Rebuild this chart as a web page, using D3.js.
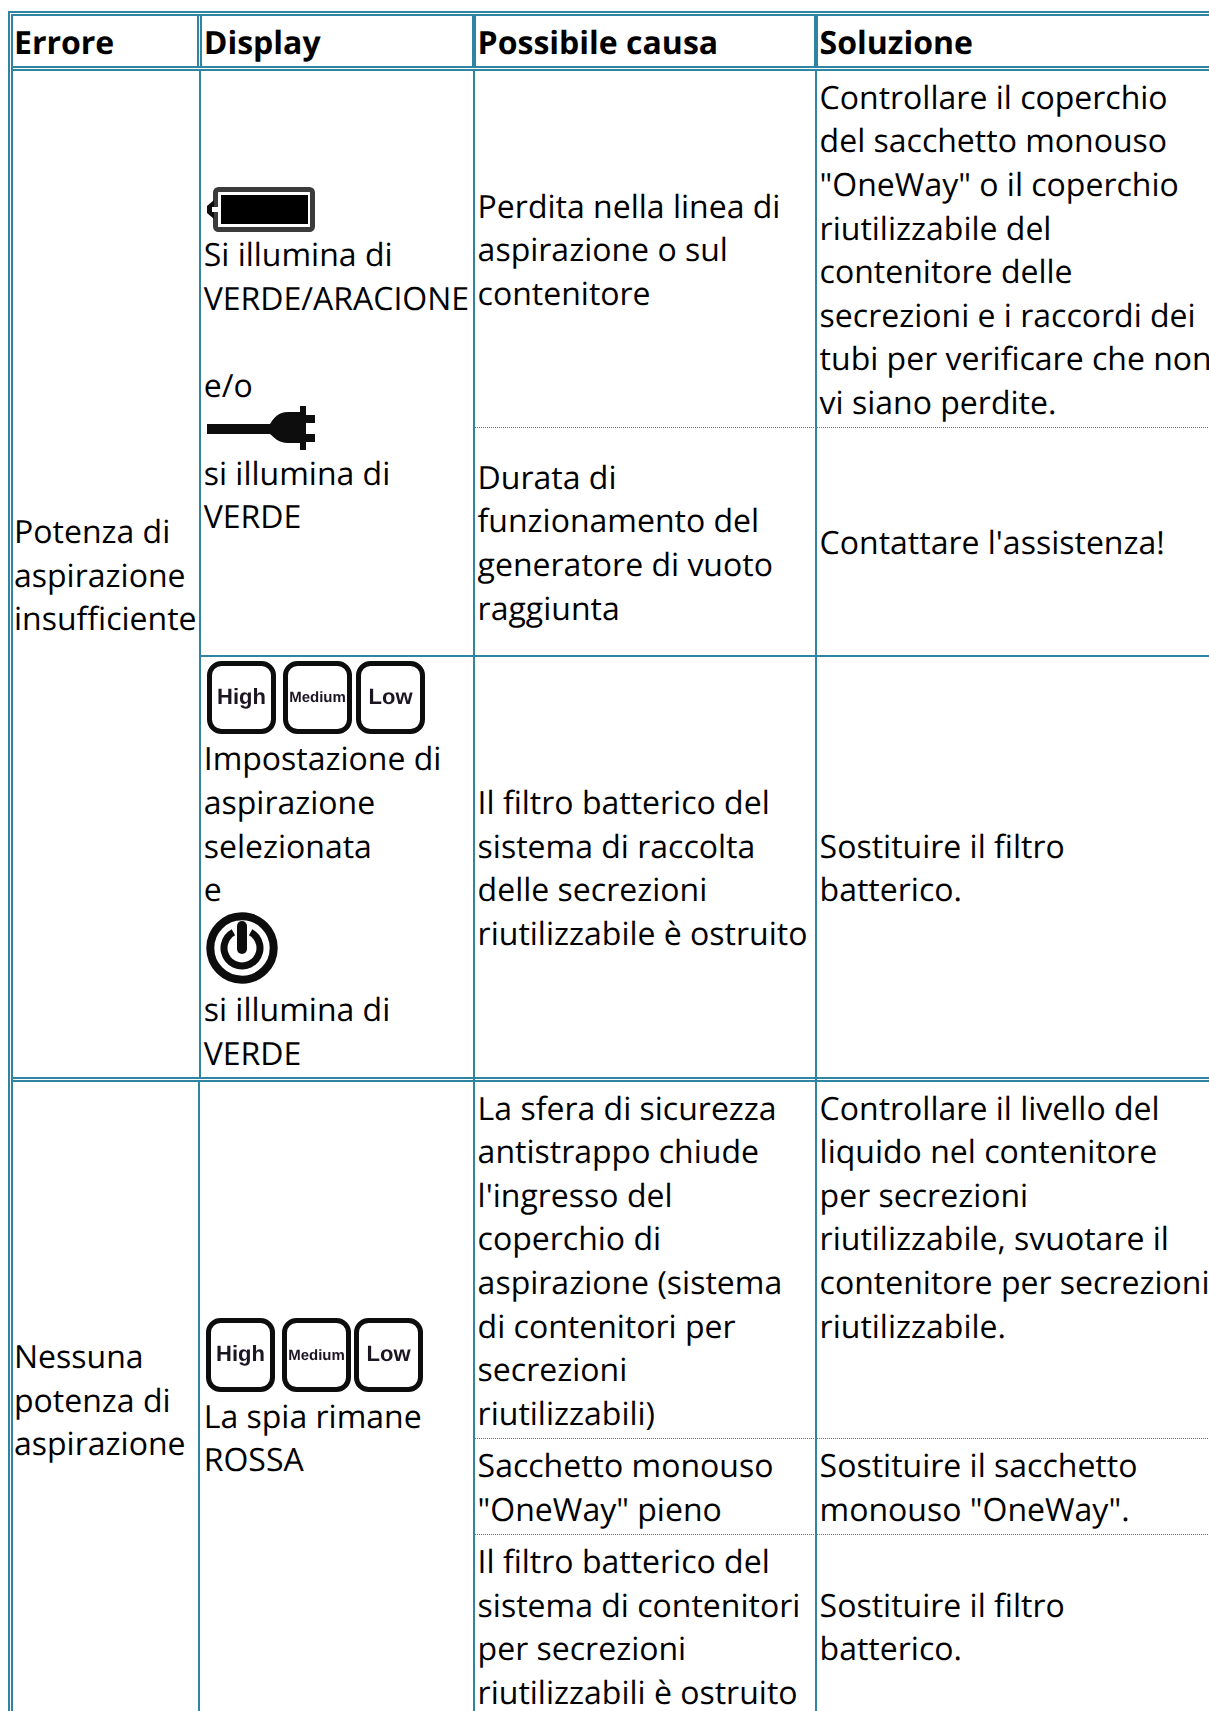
<!DOCTYPE html>
<html>
<head>
<meta charset="utf-8">
<script src="https://cdn.jsdelivr.net/npm/d3@7"></script>
<style>
html, body { margin: 0; padding: 0; background: #fff; overflow: hidden; }
text { font-family: "Open Sans", sans-serif; font-size: 32px; fill: #000; text-rendering: geometricPrecision; }
text.head { font-weight: 700; }
</style>
</head>
<body>
<div id="chart"></div>
<script>
"use strict";
let headers = ["Errore", "Display", "Possibile causa", "Soluzione"];

let errorOne = ["Potenza di", "aspirazione", "insufficiente"];
let errorTwo = ["Nessuna", "potenza di", "aspirazione"];

let displayBattery = ["Si illumina di", "VERDE/ARACIONE", "", "e/o"];
let displayPlug = ["si illumina di", "VERDE"];
let displayKeys = ["Impostazione di", "aspirazione", "selezionata", "e"];
let displayPower = ["si illumina di", "VERDE"];
let displayRed = ["La spia rimane", "ROSSA"];

let causeLeak = ["Perdita nella linea di", "aspirazione o sul", "contenitore"];
let causeTime = ["Durata di", "funzionamento del", "generatore di vuoto", "raggiunta"];
let causeFilter = ["Il filtro batterico del", "sistema di raccolta", "delle secrezioni", "riutilizzabile è ostruito"];
let causeBall = ["La sfera di sicurezza", "antistrappo chiude", "l'ingresso del", "coperchio di", "aspirazione (sistema", "di contenitori per", "secrezioni", "riutilizzabili)"];
let causeBag = ["Sacchetto monouso", "\"OneWay\" pieno"];
let causeFilter2 = ["Il filtro batterico del", "sistema di contenitori", "per secrezioni", "riutilizzabili è ostruito"];

let fixLeak = ["Controllare il coperchio", "del sacchetto monouso", "\"OneWay\" o il coperchio", "riutilizzabile del", "contenitore delle", "secrezioni e i raccordi dei", "tubi per verificare che non", "vi siano perdite."];
let fixTime = ["Contattare l'assistenza!"];
let fixFilter = ["Sostituire il filtro", "batterico."];
let fixLevel = ["Controllare il livello del", "liquido nel contenitore", "per secrezioni", "riutilizzabile, svuotare il", "contenitore per secrezioni", "riutilizzabile."];
let fixBag = ["Sostituire il sacchetto", "monouso \"OneWay\"."];
let fixFilter2 = ["Sostituire il filtro", "batterico."];

let keyLabels = ["High", "Medium", "Low"];

const LINE = 43.6, BORDER = "#2e84a1";
const textX = [14, 203.7, 477.6, 819.6];

let svg = d3.select("#chart").append("svg").attr("width", 1209).attr("height", 1711);

// first baseline of each block
let blocks = [
    { lines: headers.slice(0, 1), col: 0, y: 54, head: true },
    { lines: headers.slice(1, 2), col: 1, y: 54, head: true },
    { lines: headers.slice(2, 3), col: 2, y: 54, head: true },
    { lines: headers.slice(3, 4), col: 3, y: 54, head: true },
    { lines: errorOne, col: 0, y: 543 },
    { lines: errorTwo, col: 0, y: 1368 },
    { lines: displayBattery, col: 1, y: 266 },
    { lines: displayPlug, col: 1, y: 484.8 },
    { lines: displayKeys, col: 1, y: 770.3 },
    { lines: displayPower, col: 1, y: 1021 },
    { lines: displayRed, col: 1, y: 1427.8 },
    { lines: causeLeak, col: 2, y: 217.8 },
    { lines: causeTime, col: 2, y: 488.8 },
    { lines: causeFilter, col: 2, y: 814.2 },
    { lines: causeBall, col: 2, y: 1119.6 },
    { lines: causeBag, col: 2, y: 1477 },
    { lines: causeFilter2, col: 2, y: 1573 },
    { lines: fixLeak, col: 3, y: 108.8 },
    { lines: fixTime, col: 3, y: 554 },
    { lines: fixFilter, col: 3, y: 857.8 },
    { lines: fixLevel, col: 3, y: 1119.6 },
    { lines: fixBag, col: 3, y: 1477 },
    { lines: fixFilter2, col: 3, y: 1616.8 }
];

// solid and double table rules [x1, y1, x2, y2, width]
let rules = [
    [8, 12, 1209, 12, 2], [11, 15, 1209, 15, 2],
    [9, 11, 9, 1711, 2], [12, 14, 12, 1711, 2],
    [11, 67, 1209, 67, 2], [11, 70, 1209, 70, 2],
    [198, 14, 198, 67, 2], [201, 14, 201, 67, 2],
    [474, 14, 474, 67, 4], [816, 14, 816, 67, 4],
    [200, 70, 200, 1078, 2], [474, 70, 474, 1711, 2], [816, 70, 816, 1711, 2],
    [199, 1081, 199, 1711, 2],
    [200, 656, 1209, 656, 2],
    [11, 1078, 1209, 1078, 2], [11, 1081, 1209, 1081, 2]
];
let dotted = [[475, 427], [475, 1438], [475, 1534]];

svg.append("g").selectAll("line").data(rules).enter().append("line")
    .attr("x1", d => d[0]).attr("y1", d => d[1])
    .attr("x2", d => d[2]).attr("y2", d => d[3])
    .attr("stroke", BORDER).attr("stroke-width", d => d[4]);

svg.append("g").selectAll("line").data(dotted).enter().append("line")
    .attr("x1", d => d[0]).attr("x2", 1209)
    .attr("y1", d => d[1] + 0.5).attr("y2", d => d[1] + 0.5)
    .attr("stroke", BORDER).attr("stroke-width", 1).attr("stroke-dasharray", "1 1");

blocks.forEach(b => {
    svg.append("g").selectAll("text").data(b.lines).enter().append("text")
        .attr("class", b.head ? "head" : null)
        .attr("x", textX[b.col])
        .attr("y", (d, i) => Math.round(b.y + i * LINE))
        .text(d => d);
});

/* Icons */
let soft = svg.append("defs").append("filter").attr("id", "soft");
soft.append("feGaussianBlur").attr("stdDeviation", 0.5);
let icons = svg.append("g").attr("filter", "url(#soft)");

// battery
icons.append("rect").attr("x", 215.5).attr("y", 189.5).attr("width", 97).attr("height", 40).attr("rx", 3)
    .attr("fill", "#fff").attr("stroke", "#3a3a3a").attr("stroke-width", 5);
icons.append("rect").attr("x", 221).attr("y", 195).attr("width", 87).attr("height", 29).attr("fill", "#000");
icons.append("path").attr("d", "M214 200 L207 206 L207 213 L214 219 Z").attr("fill", "#111");
icons.append("rect").attr("x", 212).attr("y", 207).attr("width", 9).attr("height", 5).attr("fill", "#fff");

// plug
icons.append("rect").attr("x", 207).attr("y", 424).attr("width", 70).attr("height", 10).attr("fill", "#0a0a0a");
icons.append("path").attr("d", "M270 424 C274 418 278 412 288 412 L304 412 L304 443 L288 443 C278 443 274 437 270 434 Z").attr("fill", "#0a0a0a");
icons.append("rect").attr("x", 300).attr("y", 406).attr("width", 6).attr("height", 44).attr("fill", "#0a0a0a");
icons.append("rect").attr("x", 304).attr("y", 415).attr("width", 11).attr("height", 8).attr("fill", "#0a0a0a");
icons.append("rect").attr("x", 304).attr("y", 434).attr("width", 11).attr("height", 8).attr("fill", "#0a0a0a");

// High / Medium / Low keys
function drawKeys(xs, y, w, h) {
    keyLabels.forEach((label, i) => {
        icons.append("rect").attr("x", xs[i] + 2.5).attr("y", y + 2.5)
            .attr("width", w - 5).attr("height", h - 5).attr("rx", 12)
            .attr("fill", "#fff").attr("stroke", "#0a0a0a").attr("stroke-width", 5);
        icons.append("text").attr("x", xs[i] + w / 2).attr("y", y + h / 2 + (i == 1 ? 4.5 : 6))
            .attr("text-anchor", "middle")
            .style("font-family", "'Liberation Sans', sans-serif")
            .style("font-weight", 700)
            .style("font-size", i == 1 ? "15px" : "22px")
            .style("fill", "#1c1424")
            .text(label);
    });
}
drawKeys([207, 283, 356], 661, 69, 73);
drawKeys([206, 282, 354], 1318, 69, 74);

// power button
icons.append("circle").attr("cx", 242).attr("cy", 948).attr("r", 31.7).attr("fill", "none").attr("stroke", "#0a0a0a").attr("stroke-width", 8);
icons.append("path").attr("d", d3.arc()({ innerRadius: 14.5, outerRadius: 21.5, startAngle: 0.5, endAngle: 2 * Math.PI - 0.5 }))
    .attr("transform", "translate(242,948)").attr("fill", "#0a0a0a");
icons.append("rect").attr("x", 237).attr("y", 921).attr("width", 10).attr("height", 33).attr("rx", 5).attr("fill", "#0a0a0a");
</script>
</body>
</html>
